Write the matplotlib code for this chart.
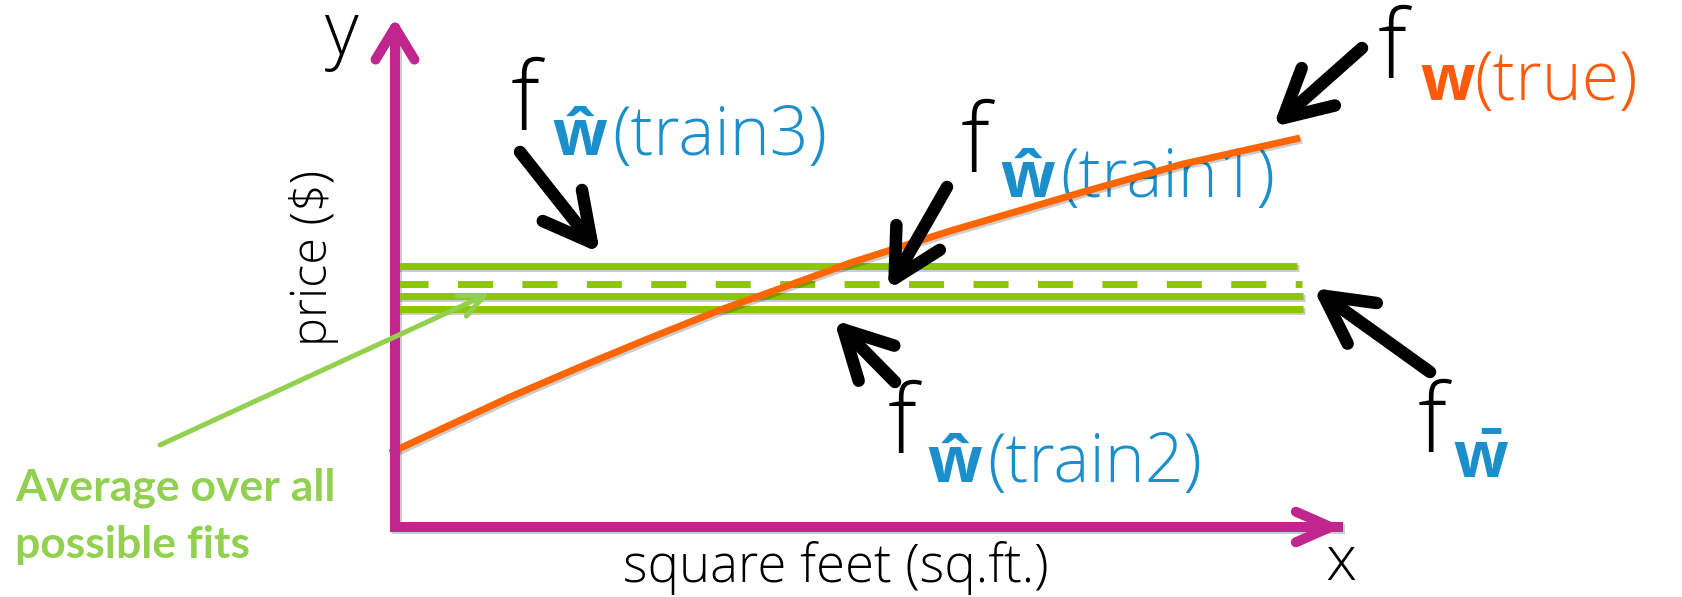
import matplotlib.pyplot as plt
import matplotlib.patheffects as pe
from matplotlib.patches import FancyArrowPatch

plt.rcParams['lines.scale_dashes'] = False

# schematic units: x grows right, y grows downward (price axis inverted below)
x_start, x_end = 397, [1297, 1302, 1303, 1303]
fit_names = ['train3', 'average', 'train1', 'train2']
fit_levels = [266, 284, 296, 309]

true_x = [390, 450, 510, 580, 650, 720, 790, 850, 950, 1083, 1183, 1300]
true_y = [453, 425, 397, 367, 338, 310, 285, 263, 231, 192, 164, 138]

axis_origin = (395, 527)
y_tip = (395, 18)
x_tip = (1343, 527)

# (tail, tip) of the pointer arrows
pointers = {
    'train3': ((520, 152), (600, 253)),
    'train1': ((947, 187), (888, 290)),
    'true': ((1362, 48), (1273, 127)),
    'train2': ((895, 382), (834, 320)),
    'wbar': ((1430, 372), (1313, 288)),
}
avg_pointer = ((160, 445), (490, 293))

MAGENTA = '#c0268e'
GREEN = '#8cc600'
LIGHT_GREEN = '#92d050'
ORANGE = '#ff6600'
BLUE = '#1b8fcb'
FONT = 'Open Sans'

shadow = [pe.SimpleLineShadow(offset=(1.5, -1.5), alpha=0.2), pe.Normal()]

fig = plt.figure(figsize=(16.82, 5.97), dpi=100)
ax = fig.add_axes([0, 0, 1, 1])
ax.set_xlim(0, 1682)
ax.set_ylim(597, 0)
ax.axis('off')


def arrow(tail, tip, color, lw, hl, hw, effects=None):
    a = FancyArrowPatch(tail, tip,
                        arrowstyle=f'->,head_length={hl},head_width={hw}',
                        mutation_scale=1, lw=lw, color=color,
                        capstyle='round', joinstyle='round',
                        shrinkA=0, shrinkB=0, zorder=5)
    if effects:
        a.set_path_effects(effects)
    ax.add_patch(a)


# axes
ax.plot([y_tip[0], axis_origin[0], x_tip[0]],
        [y_tip[1] + 20, axis_origin[1], axis_origin[1]],
        color=MAGENTA, lw=7.2, solid_joinstyle='miter',
        solid_capstyle='butt', path_effects=shadow, zorder=2)
arrow(axis_origin, y_tip, MAGENTA, 7.2, 23, 14)
arrow(axis_origin, x_tip, MAGENTA, 7.2, 25, 11)

# fitted constant lines
for name, lvl, xe in zip(fit_names, fit_levels, x_end):
    if name == 'average':
        ax.plot([x_start - 4, xe], [lvl, lvl], color=GREEN, lw=5,
                linestyle=(0, (25.2, 21.2)), dash_capstyle='butt', zorder=3)
    else:
        ax.plot([x_start, xe], [lvl, lvl], color=GREEN, lw=5,
                solid_capstyle='butt', path_effects=shadow, zorder=3)

# true function
ax.plot(true_x, true_y, color=ORANGE, lw=5, solid_capstyle='butt',
        solid_joinstyle='round', path_effects=shadow, zorder=4)

# pointer arrows
for tail, tip in pointers.values():
    arrow(tail, tip, 'black', 9, 34, 18)
arrow(avg_pointer[0], avg_pointer[1], LIGHT_GREEN, 3.6, 18, 8)

# axis letters and labels
ax.text(341, 54, 'y', ha='center', va='baseline', fontsize=53, family=FONT, fontweight='light')
ax.text(1341, 580, 'x', ha='center', va='baseline', fontsize=45, family=FONT, fontweight='light')
ax.text(314, 258, 'price ($)', ha='center', va='center', rotation=90,
        fontsize=35, family=FONT, fontweight='light')
ax.text(836, 582, 'square feet (sq.ft.)', ha='center', va='baseline',
        fontsize=38, family=FONT, fontweight='light')

# function labels: (f left, f baseline, w left, sub baseline, paren left, w text, rest, colour)
labels = [
    (511, 130, 552, 155, 612, '\u0175', '(train3)', BLUE),
    (961, 172, 1000, 197, 1060, '\u0175', '(train1)', BLUE),
    (1378, 78, 1420, 100, 1474, 'w', '(true)', '#ff5a0a'),
    (888, 453, 927, 482, 987, '\u0175', '(train2)', BLUE),
    (1418, 452, 1453, 477, None, 'w\u0304', '', BLUE),
]
for fx, fy, wx, sy, px, wtxt, rest, col in labels:
    ax.text(fx, fy, 'f', ha='left', va='baseline', fontsize=69, family=FONT, fontweight='light')
    ax.text(wx, sy, wtxt, ha='left', va='baseline', fontsize=46,
            family=[FONT, 'DejaVu Sans'], fontweight='bold', color=col)
    if rest:
        ax.text(px, sy, rest, ha='left', va='baseline', fontsize=49, family=FONT,
                fontweight='light', color=col)

ax.text(15, 558, 'Average over all\npossible fits', ha='left', va='baseline',
        fontsize=32, family='Lato', fontweight='bold', color=LIGHT_GREEN,
        linespacing=1.5)

fig.savefig('out.png', dpi=100)
